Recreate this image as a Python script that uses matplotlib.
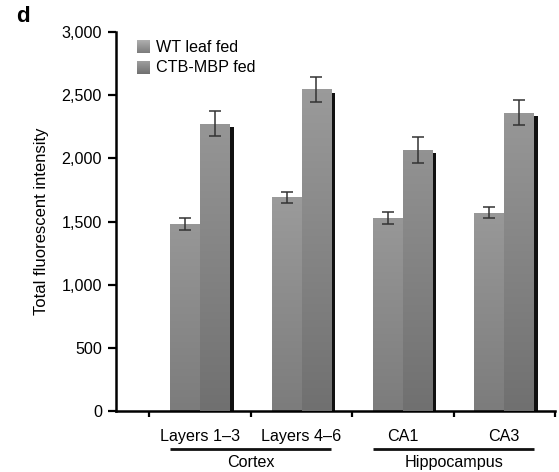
import numpy as np
import matplotlib
matplotlib.use('Agg')
import matplotlib.pyplot as plt
from matplotlib.colors import LinearSegmentedColormap

plt.rcParams['font.family'] = ['Liberation Sans', 'DejaVu Sans']

regions = ['Layers 1\u20133', 'Layers 4\u20136', 'CA1', 'CA3']
groups = ['Cortex', 'Hippocampus']
series = ['WT leaf fed', 'CTB-MBP fed']
wt_mean = [1480, 1690, 1530, 1570]
wt_err = [48, 45, 48, 45]
ctb_mean = [2275, 2545, 2065, 2360]
ctb_err = [100, 100, 100, 100]

fs = 11.6
W, H = 559, 472
fig = plt.figure(figsize=(W / 100, H / 100), dpi=100)
ax = fig.add_axes([116 / W, 1 - 411 / H, 439 / W, 379 / H])

x = np.arange(len(regions))
w = 0.295
ymax = 3000

# vertical gradients, light at the top and darker at the base
wt_cmap = LinearSegmentedColormap.from_list('wt', ['#7c7c7c', '#b3b3b3'])
ctb_cmap = LinearSegmentedColormap.from_list('ctb', ['#707070', '#a2a2a2'])
grad = np.linspace(0, 1, 256).reshape(-1, 1)


def gradient_bars(xpos, heights, cmap, z):
    bars = ax.bar(xpos, heights, w, color='none', edgecolor='none', zorder=z)
    for b in bars:
        im = ax.imshow(grad, cmap=cmap, origin='lower', aspect='auto',
                       extent=[b.get_x(), b.get_x() + b.get_width(), 0, ymax],
                       zorder=z, interpolation='bilinear')
        im.set_clip_path(b)
    return bars


# drop shadow behind each pair
shadow_dx = 0.035
shadow_dy = 25
ax.bar(x + w + shadow_dx - w / 2, np.array(ctb_mean) - shadow_dy, w,
       color='#111111', zorder=1)

gradient_bars(x - w / 2, wt_mean, wt_cmap, 2)
gradient_bars(x + w / 2, ctb_mean, ctb_cmap, 3)

ax.errorbar(x - w / 2, wt_mean, yerr=wt_err, fmt='none', ecolor='#333333',
            elinewidth=1.1, capsize=4, capthick=1.1, zorder=5)
ax.errorbar(x + w / 2, ctb_mean, yerr=ctb_err, fmt='none', ecolor='#333333',
            elinewidth=1.1, capsize=4, capthick=1.1, zorder=5)

ax.set_xlim(-0.83, 3.5)
ax.set_ylim(0, ymax)
ax.set_yticks(np.arange(0, 3001, 500))
ax.set_yticklabels(['{:,}'.format(v) for v in range(0, 3001, 500)], fontsize=fs)
ax.set_xticks(np.arange(-0.5, 4, 1.0))
ax.set_xticklabels([])
ax.tick_params(axis='y', length=6, width=1.6, pad=4)
ax.tick_params(axis='x', length=4, width=1.6)
for s in ['top', 'right']:
    ax.spines[s].set_visible(False)
for s in ['left', 'bottom']:
    ax.spines[s].set_linewidth(1.8)

ax.set_ylabel('Total fluorescent intensity', fontsize=12, labelpad=9)

# category labels under the axis
trans = ax.get_xaxis_transform()
for xi, name in zip(x, regions):
    ax.text(xi, -0.066, name, transform=trans, ha='center', va='center',
            fontsize=fs, clip_on=False)

# bracket lines for the tissue groups
spans = [(x[0] - w, x[1] + w), (x[2] - w, x[3] + w)]
for (a, b), name in zip(spans, groups):
    ax.plot([a, b], [-0.1, -0.1], transform=trans, color='#111111',
            lw=2.0, clip_on=False, solid_capstyle='butt')
    ax.text((a + b) / 2, -0.135, name, transform=trans, ha='center',
            va='center', fontsize=fs, clip_on=False)

# legend with gradient swatches
for i, (name, cmap) in enumerate(zip(series, [wt_cmap, ctb_cmap])):
    yc = 47 + i * 21
    sw = fig.add_axes([137 / W, 1 - (yc + 6.5) / H, 13 / W, 13 / H])
    sw.imshow(grad, cmap=cmap, origin='lower', aspect='auto')
    sw.set_axis_off()
    fig.text(156 / W, 1 - yc / H, name, ha='left', va='center', fontsize=fs)

fig.text(16 / W, 1 - 16 / H, 'd', fontsize=16, fontweight='bold',
         ha='left', va='center')

fig.savefig('out.png', dpi=100)
